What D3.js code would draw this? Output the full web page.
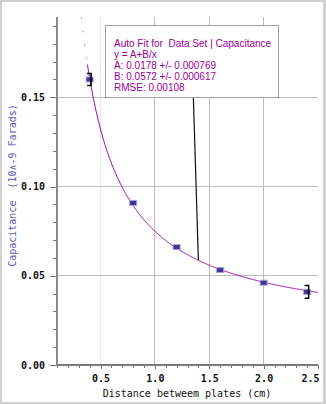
<!DOCTYPE html>
<html><head><meta charset="utf-8">
<script src="https://cdn.jsdelivr.net/npm/d3@7"></script>
<style>html,body{margin:0;padding:0;background:#d2d2d2;}svg{display:block;}</style>
</head><body>
<script>
// Data
const distances = [0.4, 0.8, 1.2, 1.6, 2.0, 2.4];
const capacitance = [0.160, 0.0908, 0.0661, 0.0532, 0.0461, 0.0410];
const errors = [0.0034, 0.0010, 0.0010, 0.0010, 0.0010, 0.0036];
const fitA = 0.0178, fitB = 0.0572;
const xTickLabels = [0.5, 1.0, 1.5, 2.0, 2.5];
const yTickLabels = [0.00, 0.05, 0.10, 0.15];
const annotationLines = [
  "Auto Fit for  Data Set | Capacitance",
  "y = A+B/x",
  "A: 0.0178 +/- 0.000769",
  "B: 0.0572 +/- 0.000617",
  "RMSE: 0.00108"
];
const xLabel = "Distance betweem plates (cm)";
const yLabel = "Capacitance  (10\u2227-9 Farads)";

const W = 326, H = 404;
const svg = d3.select("body").append("svg").attr("width", W).attr("height", H);
svg.append("rect").attr("x", 0).attr("y", 0).attr("width", W).attr("height", H).attr("fill", "#d2d2d2");
svg.append("rect").attr("x", 2).attr("y", 2).attr("width", 321).attr("height", 400).attr("fill", "#fff");

const x = d3.scaleLinear().domain([0.1, 2.5]).range([57, 318]);
const y = d3.scaleLinear().domain([0, 0.195]).range([365, 17]);
const mono = "'DejaVu Sans Mono', monospace";

// gridlines
const g = svg.append("g");
g.selectAll("line.vg").data([0.5, 1.0, 1.5, 2.0]).join("line")
  .attr("x1", d => x(d)).attr("x2", d => x(d)).attr("y1", y(0.195)).attr("y2", y(0))
  .attr("stroke", d => d === 0.5 ? "#ececec" : "#bdbdbd").attr("stroke-width", 1).attr("shape-rendering", "crispEdges");
g.selectAll("line.hg").data([0.05, 0.10, 0.15]).join("line")
  .attr("x1", x(0.1)).attr("x2", x(2.5)).attr("y1", d => y(d)).attr("y2", d => y(d))
  .attr("stroke", "#bdbdbd").attr("stroke-width", 1).attr("shape-rendering", "crispEdges");

// axes
const yMinor = d3.range(0, 20).map(i => i / 100);
const xMinor = d3.range(1, 26).map(i => i / 10);
const yAxG = svg.append("g").attr("transform", `translate(${x(0.1)},0)`);
yAxG.call(d3.axisLeft(y).tickValues(yMinor).tickSize(4).tickFormat(""));
const yAxG2 = svg.append("g").attr("transform", `translate(${x(0.1)},0)`);
yAxG2.call(d3.axisLeft(y).tickValues(yTickLabels).tickSize(7).tickPadding(5).tickFormat(d3.format(".2f")));
const xAxG = svg.append("g").attr("transform", `translate(0,${y(0)})`);
xAxG.call(d3.axisBottom(x).tickValues(xMinor).tickSize(3).tickFormat(""));
const xAxG2 = svg.append("g").attr("transform", `translate(0,${y(0)})`);
xAxG2.call(d3.axisBottom(x).tickValues(xTickLabels).tickSize(4).tickPadding(6).tickFormat(d3.format(".1f")));
[yAxG, yAxG2, xAxG, xAxG2].forEach(a => {
  a.select(".domain").remove();
  a.selectAll("line").attr("stroke", "#777").attr("shape-rendering", "crispEdges");
  a.selectAll("text").attr("font-family", mono).attr("font-size", 10).attr("font-weight", "bold").attr("fill", "#111");
});
xAxG2.selectAll("text").filter(d => d === 2.5).attr("text-anchor", "end").attr("dx", 1);
svg.append("line").attr("x1", x(0.1)).attr("x2", x(0.1)).attr("y1", y(0.195)).attr("y2", y(0) + 1)
  .attr("stroke", "#8a8a8a").attr("stroke-width", 2);
svg.append("line").attr("x1", x(0.1)).attr("x2", x(2.5)).attr("y1", y(0)).attr("y2", y(0))
  .attr("stroke", "#7a7a7a").attr("stroke-width", 2);

// axis titles
svg.append("text").attr("x", 187).attr("y", 397).attr("text-anchor", "middle")
  .attr("font-family", mono).attr("font-size", 10).attr("fill", "#111").text(xLabel);
svg.append("text").attr("transform", `translate(16,${y(0.1) - 1}) rotate(-90)`).attr("text-anchor", "middle")
  .attr("font-family", mono).attr("font-size", 10).attr("fill", "#5a5ab8").attr("xml:space", "preserve")
  .style("white-space", "pre").text(yLabel);

// clip
svg.append("clipPath").attr("id", "clip").append("rect")
  .attr("x", x(0.1)).attr("y", y(0.195)).attr("width", x(2.5) - x(0.1)).attr("height", y(0) - y(0.195));

// fit curve: steep upper part renders sparse, rest solid
const fitLine = d3.line().x(d => x(d)).y(d => y(fitA + fitB / d));
const steepXs = d3.range(0.31, 0.3801, 0.002);
const mainXs = d3.range(0.38, 2.5001, 0.005);
svg.append("path").attr("clip-path", "url(#clip)").datum(steepXs)
  .attr("d", fitLine).attr("fill", "none").attr("stroke", "#c060c8").attr("stroke-width", 1)
  .attr("stroke-dasharray", "1.5,12");
svg.append("path").attr("clip-path", "url(#clip)").datum(mainXs)
  .attr("d", fitLine).attr("fill", "none").attr("stroke", "#a000a8").attr("stroke-width", 1);

// markers
svg.selectAll("rect.m").data(distances).join("rect")
  .attr("x", d => x(d) - 3.5).attr("y", (d, i) => y(capacitance[i]) - 2.5)
  .attr("width", 7).attr("height", 5)
  .attr("fill", "#3e3592").attr("stroke", "#a8a0dc").attr("stroke-width", 1);

// error bars (only where larger than the marker)
const eb = svg.append("g").attr("stroke", "#000").attr("stroke-width", 1.5).attr("fill", "none");
distances.forEach((d, i) => {
  const cx = x(d) + 1.5, y1 = y(capacitance[i] + errors[i]), y2 = y(capacitance[i] - errors[i]);
  if (y2 - y1 > 6) eb.append("path").attr("d", `M${cx - 4},${y1}H${cx}V${y2}H${cx - 4}`);
});

// annotation leader line
svg.append("line").attr("x1", x(1.4) - 5).attr("y1", 98).attr("x2", x(1.4)).attr("y2", y(fitA + fitB / 1.4))
  .attr("stroke", "#111").attr("stroke-width", 1.2);

// annotation box
svg.append("rect").attr("x", 105.5).attr("y", 25.5).attr("width", 173).attr("height", 72)
  .attr("fill", "#fff").attr("stroke", "#a0a0a0").attr("stroke-width", 1);
svg.append("g").selectAll("text").data(annotationLines).join("text")
  .attr("x", 114).attr("y", (d, i) => 46.5 + i * 11)
  .attr("xml:space", "preserve").style("white-space", "pre")
  .attr("font-family", "'Liberation Sans', Arial, sans-serif").attr("font-size", 10)
  .attr("fill", "#9a009a").text(d => d);
</script>
</body></html>
